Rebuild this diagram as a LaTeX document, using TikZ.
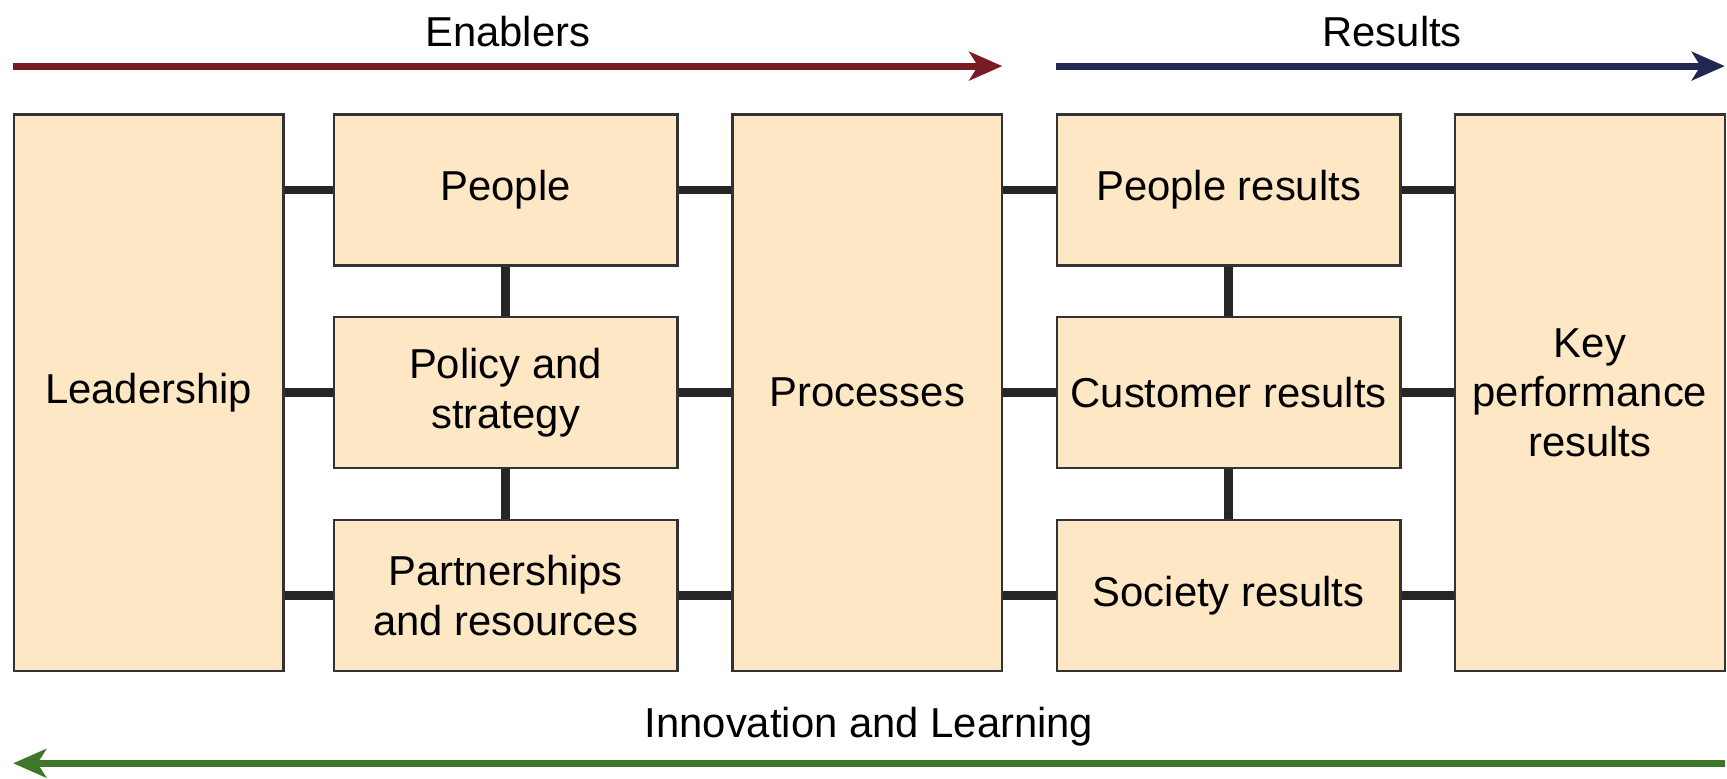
\documentclass[tikz,border=0pt]{standalone}
\usepackage{fontspec}
\setmainfont{Liberation Sans}
\usetikzlibrary{arrows.meta}
\definecolor{boxfill}{RGB}{253,231,196}
\definecolor{enabred}{RGB}{122,26,36}
\definecolor{resblue}{RGB}{32,40,82}
\definecolor{learngreen}{RGB}{62,118,42}
\tikzset{
  block/.style={draw=black!80, line width=0.6pt, fill=boxfill, inner sep=2pt,
    align=center, font=\fontsize{10.8}{12.8}\selectfont},
  tall/.style={block, minimum width=2.45cm, minimum height=5.05cm},
  small/.style={block, minimum width=3.12cm, minimum height=1.37cm},
  link/.style={line width=2.3pt, black!85},
  flow/.style={line width=1.8pt, -{Stealth[length=0.3cm, width=0.26cm, inset=0.08cm]}},
  title/.style={font=\fontsize{10.8}{12.8}\selectfont, inner sep=0pt}
}
\begin{document}
\begin{tikzpicture}
\useasboundingbox (0,0) rectangle (15.68,-7.064);
% enablers
\node[tall] (lead) at (1.35,-3.565) {Leadership};
\node[small] (ppl) at (4.59,-1.725) {People};
\node[small] (pol) at (4.59,-3.565) {Policy and\\strategy};
\node[small] (part) at (4.59,-5.405) {Partnerships\\and resources};
\node[tall] (proc) at (7.875,-3.565) {Processes};
% results
\node[small] (pres) at (11.155,-1.725) {People results};
\node[small] (cres) at (11.155,-3.565) {Customer results};
\node[small] (sres) at (11.155,-5.405) {Society results};
\node[tall] (kpr) at (14.435,-3.565) {Key\\performance\\results};
% links
\foreach \b in {ppl,pol,part}{
  \draw[link] (lead.east |- \b.west) -- (\b.west);
  \draw[link] (\b.east) -- (proc.west |- \b.east);
}
\foreach \b in {pres,cres,sres}{
  \draw[link] (proc.east |- \b.west) -- (\b.west);
  \draw[link] (\b.east) -- (kpr.west |- \b.east);
}
\draw[link] (ppl.south) -- (pol.north);
\draw[link] (pol.south) -- (part.north);
\draw[link] (pres.south) -- (cres.north);
\draw[link] (cres.south) -- (sres.north);
% arrows
\coordinate (ena1) at (0.12,-0.6);
\coordinate (ena2) at (9.10,-0.6);
\coordinate (res1) at (9.59,-0.6);
\coordinate (res2) at (15.66,-0.6);
\coordinate (inn1) at (15.66,-6.93);
\coordinate (inn2) at (0.12,-6.93);
\draw[flow, enabred] (ena1) -- (ena2);
\draw[flow, resblue] (res1) -- (res2);
\draw[flow, learngreen] (inn1) -- (inn2);
% labels
\node[title] (enab) at (4.61,-0.29) {Enablers};
\node[title] (resl) at (12.64,-0.29) {Results};
\node[title] (innl) at (7.89,-6.6) {Innovation and Learning};
\end{tikzpicture}
\end{document}
